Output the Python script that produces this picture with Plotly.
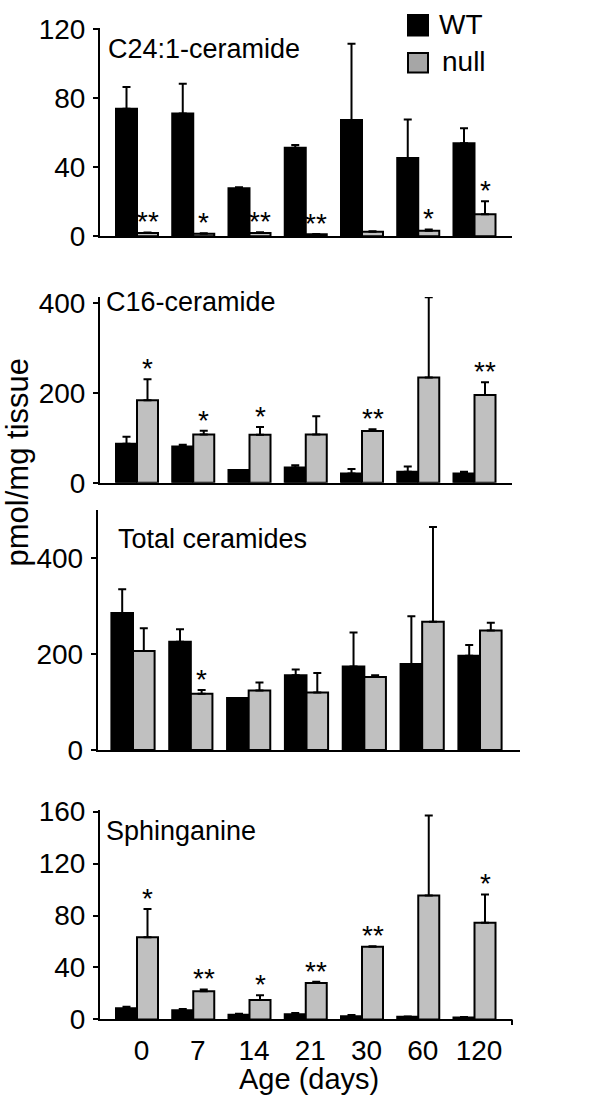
import plotly.graph_objects as go

W, H = 600, 1113

ages = ["0", "7", "14", "21", "30", "60", "120"]

# C24:1-ceramide
c24_wt = [74.0, 71.2, 27.9, 51.4, 67.4, 45.4, 54.0]
c24_wt_err = [12.6, 17.3, 0.5, 1.5, 44.2, 22.4, 8.7]
c24_null = [1.9, 1.5, 2.0, 1.2, 2.6, 3.2, 12.8]
c24_null_err = [0.3, 0.3, 0.3, 0.2, 0.3, 0.8, 7.5]
c24_sig = ["**", "*", "**", "**", "", "*", "*"]

# C16-ceramide
c16_wt = [86.8, 80.9, 28.2, 33.8, 20.8, 24.5, 20.8]
c16_wt_err = [15.8, 3.6, 0.0, 5.0, 9.6, 11.5, 3.7]
c16_null = [183.5, 107.6, 106.9, 107.6, 115.0, 234.3, 195.2]
c16_null_err = [47.0, 8.0, 17.4, 40.6, 4.3, 179.0, 28.8]
c16_sig = ["*", "*", "*", "", "**", "", "**"]

# Total ceramides
tot_wt = [286.0, 225.8, 108.6, 156.0, 174.3, 179.8, 196.7]
tot_wt_err = [49.6, 26.4, 0.0, 12.2, 71.2, 99.6, 22.3]
tot_null = [206.8, 117.3, 124.0, 120.0, 152.5, 267.8, 249.5]
tot_null_err = [47.4, 8.2, 17.1, 40.7, 3.5, 198.0, 16.3]
tot_sig = ["", "*", "", "", "", "", ""]

# Sphinganine
sph_wt = [8.5, 7.0, 3.5, 4.0, 2.5, 2.0, 1.5]
sph_wt_err = [1.2, 1.0, 0.8, 1.0, 0.8, 0.3, 0.3]
sph_null = [63.2, 21.7, 15.0, 28.0, 56.0, 95.5, 74.5]
sph_null_err = [21.8, 1.3, 3.5, 1.0, 0.3, 61.5, 21.7]
sph_sig = ["*", "**", "*", "**", "**", "", "*"]

panels = [
    dict(name="C24:1-ceramide", wt=c24_wt, wte=c24_wt_err, nu=c24_null, nue=c24_null_err, sig=c24_sig,
         y0=229.3, ytop=15.0, ymax=121.0, ticks=[0, 40, 80, 120],
         xl=100, xr=512, c0=137, c6=474.5, lx=106, ly=37),
    dict(name="C16-ceramide", wt=c16_wt, wte=c16_wt_err, nu=c16_null, nue=c16_null_err, sig=c16_sig,
         y0=482.3, ytop=291.7, ymax=413.4, ticks=[0, 200, 400],
         xl=100, xr=512, c0=137, c6=474.5, lx=104, ly=297),
    dict(name="Total ceramides", wt=tot_wt, wte=tot_wt_err, nu=tot_null, nue=tot_null_err, sig=tot_sig,
         y0=756.7, ytop=510.7, ymax=500.3, ticks=[0, 200, 400],
         xl=97.7, xr=520, c0=133, c6=480, lx=116, ly=540),
    dict(name="Sphinganine", wt=sph_wt, wte=sph_wt_err, nu=sph_null, nue=sph_null_err, sig=sph_sig,
         y0=1033.3, ytop=818.0, ymax=161.5, ticks=[0, 40, 80, 120, 160],
         xl=100, xr=512, c0=137, c6=474.5, lx=104, ly=840),
]

FONT = "Liberation Sans, Arial, sans-serif"
TICKSIZE = 28
LABELSIZE = 27
fig = go.Figure()
annotations = []
shapes = []
layout = {}
xpos = list(range(len(ages)))
GROUPW = 0.747

for k, p in enumerate(panels, start=1):
    xa = "x" if k == 1 else f"x{k}"
    ya = "y" if k == 1 else f"y{k}"
    fig.add_trace(go.Bar(x=xpos, y=p["wt"], xaxis=xa, yaxis=ya, showlegend=False, name="WT",
                         marker=dict(color="black", line=dict(color="black", width=2)),
                         width=GROUPW / 2, offset=-GROUPW / 2,
                         error_y=dict(type="data", array=p["wte"], arrayminus=[0] * 7, symmetric=False,
                                      color="black", thickness=2, width=4)))
    fig.add_trace(go.Bar(x=xpos, y=p["nu"], xaxis=xa, yaxis=ya, showlegend=False, name="null",
                         marker=dict(color="#c0c0c0", line=dict(color="black", width=2)),
                         width=GROUPW / 2, offset=0,
                         error_y=dict(type="data", array=p["nue"], arrayminus=[0] * 7, symmetric=False,
                                      color="black", thickness=2, width=4)))
    step = (p["c6"] - p["c0"]) / 6.0
    xr0 = (p["xl"] - p["c0"]) / step
    xr1 = (p["xr"] - p["c0"]) / step
    pxu = (p["y0"] - p["ytop"]) / p["ymax"]
    is_bottom = (k == 4)
    layout[f"xaxis{'' if k == 1 else k}"] = dict(
        domain=[p["xl"] / W, p["xr"] / W], range=[xr0, xr1], anchor=ya,
        showline=True, linecolor="black", linewidth=2, showgrid=False, zeroline=False,
        ticks="", fixedrange=True,
        tickvals=[i + 0.08 for i in xpos] if is_bottom else [],
        ticktext=ages if is_bottom else [],
        showticklabels=is_bottom, ticklabelstandoff=5,
        tickfont=dict(family=FONT, size=TICKSIZE, color="black"),
    )
    layout[f"yaxis{'' if k == 1 else k}"] = dict(
        domain=[1 - p["y0"] / H, 1 - p["ytop"] / H], range=[0, p["ymax"]], anchor=xa,
        showline=True, linecolor="black", linewidth=2, showgrid=False, zeroline=False,
        ticks="outside", ticklen=5, tickwidth=2, tickcolor="black", fixedrange=True,
        tickvals=p["ticks"], tickfont=dict(family=FONT, size=TICKSIZE, color="black"),
        ticklabelstandoff=2,
    )
    annotations.append(dict(text=p["name"], x=p["lx"] / W, y=1 - p["ly"] / H, xref="paper", yref="paper",
                            xanchor="left", yanchor="middle", showarrow=False,
                            font=dict(family=FONT, size=LABELSIZE, color="black")))
    for i, s in enumerate(p["sig"]):
        if not s:
            continue
        top = p["nu"][i] + p["nue"][i]
        annotations.append(dict(text=s, x=i + GROUPW / 4, y=top + 18.0 / pxu, xref=xa, yref=ya,
                                xanchor="center", yanchor="middle", showarrow=False, yshift=-7,
                                font=dict(family=FONT, size=28, color="black")))

# right-end tick on bottom x axis
shapes.append(dict(type="line", xref="paper", yref="paper", x0=512 / W, x1=512 / W,
                   y0=1 - 1033.3 / H, y1=1 - 1039 / H, line=dict(color="black", width=2)))

# legend
shapes.append(dict(type="rect", xref="paper", yref="paper", x0=408 / W, x1=428 / W,
                   y0=1 - 23 / H, y1=1 - 2 / H, fillcolor="black", line=dict(color="black", width=2)))
shapes.append(dict(type="rect", xref="paper", yref="paper", x0=408 / W, x1=428 / W,
                   y0=1 - 61 / H, y1=1 - 41 / H, fillcolor="#a6a6a6", line=dict(color="black", width=2)))
annotations.append(dict(text="WT", x=437 / W, y=1 - 12 / H, xref="paper", yref="paper", xanchor="left",
                        yanchor="middle", showarrow=False, font=dict(family=FONT, size=28, color="black")))
annotations.append(dict(text="null", x=440 / W, y=1 - 50 / H, xref="paper", yref="paper", xanchor="left",
                        yanchor="middle", showarrow=False, font=dict(family=FONT, size=28, color="black")))

# axis titles
annotations.append(dict(text="pmol/mg tissue", x=17.5 / W, y=1 - 462 / H, xref="paper", yref="paper",
                        xanchor="center", yanchor="middle", textangle=-90, showarrow=False,
                        font=dict(family=FONT, size=31, color="black")))
annotations.append(dict(text="Age (days)", x=309 / W, y=1 - 1095 / H, xref="paper", yref="paper",
                        xanchor="center", yanchor="middle", showarrow=False,
                        font=dict(family=FONT, size=29, color="black")))

fig.update_layout(width=W, height=H, margin=dict(l=0, r=0, t=0, b=0),
                  paper_bgcolor="white", plot_bgcolor="white", barmode="overlay",
                  annotations=annotations, shapes=shapes, **layout)

post = (
    "var d=document.documentElement.style;d.margin='0';d.padding='0';d.overflow='hidden';d.height='1113px';"
    "var b=document.body.style;b.margin='0';b.padding='0';b.overflow='hidden';b.height='1113px';"
)
fig.write_html("out.html", config={"displayModeBar": False, "staticPlot": True}, post_script=post)
